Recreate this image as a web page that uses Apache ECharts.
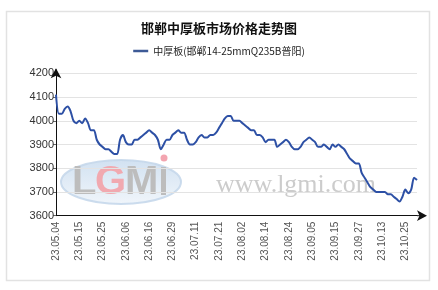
<!DOCTYPE html>
<html>
<head>
<meta charset="utf-8">
<script src="https://cdn.jsdelivr.net/npm/echarts@6/dist/echarts.min.js"></script>
<style>
html,body{margin:0;padding:0;background:#fff;}
#main{width:438px;height:290px;}
</style>
</head>
<body>
<div id="main"></div>
<script>
var titleText = '邯郸中厚板市场价格走势图';
var seriesName = '中厚板(邯郸14-25mmQ235B普阳)';
var dates = [
'23.05.04','23.05.05','23.05.06','23.05.08','23.05.09','23.05.10','23.05.11','23.05.12',
'23.05.15','23.05.16','23.05.17','23.05.18','23.05.19','23.05.22','23.05.23','23.05.24',
'23.05.25','23.05.26','23.05.29','23.05.30','23.05.31','23.06.01','23.06.02','23.06.05',
'23.06.06','23.06.07','23.06.08','23.06.09','23.06.12','23.06.13','23.06.14','23.06.15',
'23.06.16','23.06.19','23.06.20','23.06.21','23.06.25','23.06.26','23.06.27','23.06.28',
'23.06.29','23.06.30','23.07.03','23.07.04','23.07.05','23.07.06','23.07.07','23.07.10',
'23.07.11','23.07.12','23.07.13','23.07.14','23.07.17','23.07.18','23.07.19','23.07.20',
'23.07.21','23.07.24','23.07.25','23.07.26','23.07.27','23.07.28','23.07.31','23.08.01',
'23.08.02','23.08.03','23.08.04','23.08.07','23.08.08','23.08.09','23.08.10','23.08.11',
'23.08.14','23.08.15','23.08.16','23.08.17','23.08.18','23.08.21','23.08.22','23.08.23',
'23.08.24','23.08.25','23.08.28','23.08.29','23.08.30','23.08.31','23.09.01','23.09.04',
'23.09.05','23.09.06','23.09.07','23.09.08','23.09.11','23.09.12','23.09.13','23.09.14',
'23.09.15','23.09.18','23.09.19','23.09.20','23.09.21','23.09.22','23.09.25','23.09.26',
'23.09.27','23.09.28','23.10.07','23.10.08','23.10.09','23.10.10','23.10.11','23.10.12',
'23.10.13','23.10.16','23.10.17','23.10.18','23.10.19','23.10.20','23.10.23','23.10.24',
'23.10.25','23.10.26','23.10.27','23.10.30','23.10.31'
];
var prices = [
4110,4030,4030,4050,4060,4040,4000,3990,
4000,3990,4010,3990,3960,3960,3920,3900,
3890,3880,3880,3870,3860,3860,3920,3940,
3910,3900,3900,3920,3920,3930,3940,3950,
3960,3950,3940,3920,3880,3900,3920,3920,
3940,3950,3960,3950,3950,3920,3900,3900,
3910,3930,3940,3930,3930,3940,3940,3950,
3970,3990,4010,4020,4020,4000,4000,4000,
3990,3980,3970,3960,3960,3940,3940,3930,
3910,3920,3920,3920,3890,3900,3910,3920,
3910,3890,3880,3880,3890,3910,3920,3930,
3920,3910,3890,3890,3900,3890,3880,3900,
3890,3900,3890,3880,3860,3840,3830,3820,
3820,3780,3760,3740,3720,3710,3700,3700,
3700,3700,3690,3690,3680,3670,3660,3680,
3710,3695,3710,3760,3750
];
var yMin = 3600, yMax = 4200, yStep = 100;

var chart = echarts.init(document.getElementById('main'), null, {renderer:'canvas'});
var lineColor = '#2d50a5';
chart.setOption({
  animation: false,
  backgroundColor: '#ffffff',
  title: {
    text: titleText,
    left: 'center',
    top: 17,
    textStyle: {fontSize: 13, fontWeight: 'bold', color: '#111', fontFamily: 'Noto Sans CJK SC'}
  },
  legend: {
    data: [seriesName],
    top: 41,
    left: 'center',
    icon: 'rect',
    itemWidth: 15,
    itemHeight: 2.5,
    itemGap: 5,
    textStyle: {fontSize: 10, color: '#222', fontFamily: 'Noto Sans CJK SC'}
  },
  graphic: [
    {type:'rect', z:-10, shape:{x:6.5,y:11.5,width:423,height:269}, style:{fill:'none', stroke:'#e2e2e2', lineWidth:1.5}},
    {type:'ellipse', z:-5, shape:{cx:121, cy:182, rx:60, ry:22},
      style:{fill:new echarts.graphic.LinearGradient(0,0,0,1,[{offset:0,color:'#c9dcef'},{offset:1,color:'#eef4fa'}]), stroke:'#c3d6ea', lineWidth:2, opacity:0.85}},
    {type:'text', z:-4, style:{text:'L', x:72, y:163, font:'bold 40px "Liberation Sans"', fill:'#bdbdbd'}},
    {type:'text', z:-4, style:{text:'G', x:95, y:163, font:'bold 40px "Liberation Sans"', fill:'#f1a9b0'}},
    {type:'text', z:-4, style:{text:'M', x:125, y:163, font:'bold 40px "Liberation Sans"', fill:'#bdbdbd'}},
    {type:'rect', z:-4, shape:{x:161, y:167, width:5, height:28}, style:{fill:'#bdbdbd'}},
    {type:'circle', z:-4, shape:{cx:164, cy:158, r:3.5}, style:{fill:'#f3a5b0'}},
    {type:'text', z:-4, style:{text:'www.lgmi.com', x:216, y:172, font:'26px "Liberation Serif"', fill:'#cccccc'}},
    {type:'line', z:5, shape:{x1:417, y1:215.7, x2:424, y2:215.7}, style:{stroke:'#111', lineWidth:1}},
    {type:'line', z:5, shape:{x1:56, y1:73, x2:56, y2:69}, style:{stroke:'#111', lineWidth:1}}
  ],
  grid: {left: 56, right: 21, top: 73.3, bottom: 74.3, containLabel: false},
  xAxis: {
    type: 'category',
    data: dates,
    boundaryGap: false,
    axisLine: {lineStyle: {color: '#111', width: 1}, symbol: ['none','arrow'], symbolSize: [8,10], symbolOffset: [0, 10]},
    axisTick: {show: false},
    axisLabel: {interval: 7, rotate: 90, fontSize: 10, color: '#555', margin: 6, fontFamily: 'Liberation Sans'},
    splitLine: {show: false}
  },
  yAxis: {
    type: 'value',
    min: yMin, max: yMax, interval: yStep,
    axisLine: {show: true, lineStyle: {color: '#111', width: 1}, symbol: ['none','arrow'], symbolSize: [8,10], symbolOffset: [0, 5]},
    axisTick: {show: true, length: 3, lineStyle: {color: '#666'}},
    axisLabel: {fontSize: 11, color: '#333', margin: 2, fontFamily: 'Liberation Sans', formatter: function (v) { return String(v); }},
    splitLine: {show: true, lineStyle: {color: '#e3e3e3', width: 1}}
  },
  series: [{
    name: seriesName,
    type: 'line',
    data: prices,
    smooth: 0.3,
    showSymbol: false,
    lineStyle: {color: lineColor, width: 2},
    itemStyle: {color: '#3d5a96'},
    z: 3
  }]
});
</script>
</body>
</html>
